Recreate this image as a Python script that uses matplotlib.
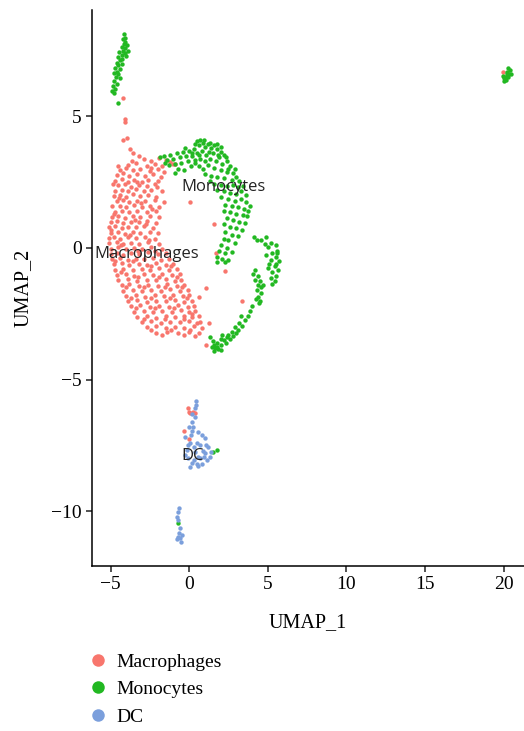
import numpy as np
import matplotlib.pyplot as plt
from matplotlib.lines import Line2D

# cell embeddings (UMAP_1, UMAP_2)
macrophages = [
    # trail below the top monocyte arm
    (-4.2, 5.7), (-4.1, 4.9), (-4.1, 4.8), (-3.95, 4.2), (-4.2, 4.1), (-3.75, 3.75), (-3.55, 3.6), (-3.2, 3.5),
    # main crescent
    (-2.9, 3.38), (-2.4, 3.3), (-1.9, 3.42), (-1.5, 3.35), (-1.2, 3.28),
    (-3.9, 3.15), (-3.4, 3.22), (-2.7, 3.12), (-2.2, 3.2), (-1.7, 3.1), (-1.0, 3.18),
    (-4.4, 2.98), (-4.0, 3.05), (-3.6, 2.95), (-3.1, 3.02), (-2.5, 2.92), (-2.0, 3.0), (-1.6, 2.9),
    (-4.6, 2.78), (-4.2, 2.85), (-3.8, 2.72), (-3.3, 2.8), (-2.8, 2.75), (-2.3, 2.82), (-1.8, 2.7),
    (-4.7, 2.55), (-4.3, 2.62), (-3.9, 2.5), (-3.5, 2.6), (-3.0, 2.52), (-2.6, 2.6), (-2.0, 2.55),
    (-4.5, 2.38), (-4.1, 2.42), (-3.7, 2.33), (-3.2, 2.4), (-2.7, 2.35), (-2.2, 2.42),
    (-4.7, 2.18), (-4.3, 2.22), (-3.9, 2.15), (-3.4, 2.25), (-2.9, 2.18), (-2.4, 2.2), (-1.7, 2.15),
    (-4.8, 1.98), (-4.4, 2.02), (-4.0, 1.95), (-3.6, 2.05), (-3.1, 1.97), (-2.6, 2.0), (-2.1, 1.95),
    (-4.6, 1.78), (-4.2, 1.82), (-3.8, 1.75), (-3.3, 1.8), (-2.8, 1.77), (-2.2, 1.84), (-1.6, 1.75),
    (-4.9, 1.58), (-4.4, 1.6), (-4.0, 1.55), (-3.5, 1.62), (-3.0, 1.55), (-2.5, 1.6), (-1.9, 1.57),
    (-4.7, 1.38), (-4.3, 1.42), (-3.8, 1.35), (-3.3, 1.4), (-2.7, 1.37), (-2.1, 1.42),
    (-4.9, 1.18), (-4.5, 1.22), (-4.1, 1.15), (-3.6, 1.2), (-3.1, 1.17), (-2.5, 1.22), (-1.9, 1.18),
    (-5.0, 0.98), (-4.6, 1.02), (-4.2, 0.95), (-3.7, 1.0), (-3.2, 0.97), (-2.7, 1.03), (-2.1, 0.96),
    (-5.1, 0.78), (-4.7, 0.82), (-4.3, 0.75), (-3.9, 0.8), (-3.4, 0.78), (-2.9, 0.83), (-2.3, 0.76),
    (-5.0, 0.58), (-4.5, 0.62), (-4.1, 0.55), (-3.6, 0.6), (-3.1, 0.57), (-2.5, 0.62), (-2.0, 0.56),
    (-5.1, 0.38), (-4.8, 0.42), (-4.4, 0.35), (-3.9, 0.4), (-3.4, 0.37), (-2.8, 0.42), (-2.2, 0.36),
    (-5.1, 0.18), (-4.6, 0.22), (-4.2, 0.15), (-3.7, 0.2), (-3.2, 0.17), (-2.6, 0.22), (-1.9, 0.16),
    (-5.0, -0.02), (-4.5, 0.02), (-4.0, -0.05), (-3.5, 0.0), (-3.0, -0.03), (-2.4, 0.03), (-1.7, -0.04),
    (-5.0, -0.22), (-4.6, -0.18), (-4.2, -0.25), (-3.7, -0.2), (-3.2, -0.23), (-2.6, -0.17), (-2.0, -0.24), (-1.5, -0.2),
    (-4.9, -0.42), (-4.4, -0.38), (-3.9, -0.45), (-3.4, -0.4), (-2.9, -0.43), (-2.3, -0.37), (-1.8, -0.44), (-1.3, -0.4),
    (-4.8, -0.62), (-4.3, -0.58), (-3.8, -0.65), (-3.2, -0.6), (-2.7, -0.63), (-2.1, -0.57), (-1.5, -0.64), (-1.0, -0.6),
    (-4.7, -0.82), (-4.2, -0.78), (-3.6, -0.85), (-3.0, -0.8), (-2.5, -0.83), (-1.9, -0.77), (-1.3, -0.84), (-0.8, -0.8),
    (-4.6, -1.02), (-4.0, -0.98), (-3.5, -1.05), (-2.9, -1.0), (-2.3, -1.03), (-1.7, -0.97), (-1.1, -1.04), (-0.6, -1.0),
    (-4.5, -1.22), (-3.9, -1.18), (-3.3, -1.25), (-2.7, -1.2), (-2.1, -1.23), (-1.5, -1.17), (-0.9, -1.24), (-0.5, -1.2),
    (-4.3, -1.42), (-3.8, -1.38), (-3.2, -1.45), (-2.6, -1.4), (-2.0, -1.43), (-1.4, -1.37), (-0.8, -1.44), (-0.3, -1.4),
    (-4.2, -1.62), (-3.6, -1.58), (-3.0, -1.65), (-2.4, -1.6), (-1.8, -1.63), (-1.2, -1.57), (-0.6, -1.64), (-0.1, -1.6),
    (-4.0, -1.82), (-3.4, -1.78), (-2.8, -1.85), (-2.2, -1.8), (-1.6, -1.83), (-1.0, -1.77), (-0.4, -1.84), (0.0, -1.8),
    (-3.9, -2.02), (-3.3, -1.98), (-2.7, -2.05), (-2.1, -2.0), (-1.5, -2.03), (-0.9, -1.97), (-0.3, -2.04), (0.2, -2.0),
    (-3.7, -2.22), (-3.1, -2.18), (-2.5, -2.25), (-1.9, -2.2), (-1.3, -2.23), (-0.7, -2.17), (-0.1, -2.24), (0.3, -2.2),
    (-3.5, -2.42), (-2.9, -2.38), (-2.3, -2.45), (-1.7, -2.4), (-1.1, -2.43), (-0.5, -2.37), (0.0, -2.44), (0.4, -2.4),
    (-3.3, -2.62), (-2.7, -2.58), (-2.1, -2.65), (-1.5, -2.6), (-0.9, -2.63), (-0.3, -2.57), (0.2, -2.64), (0.6, -2.6),
    (-3.0, -2.82), (-2.4, -2.78), (-1.8, -2.85), (-1.2, -2.8), (-0.6, -2.83), (0.0, -2.77), (0.5, -2.84),
    (-2.7, -3.02), (-2.1, -2.98), (-1.5, -3.05), (-0.9, -3.0), (-0.3, -3.03), (0.3, -2.97), (0.8, -3.04),
    (-2.1, -3.22), (-1.4, -3.18), (-0.7, -3.25), (0.0, -3.2), (0.6, -3.22),
    # in-between cells of the crescent
    (-4.55, 3.1), (-3.65, 3.3), (-2.45, 3.05), (-4.85, 2.45), (-3.35, 2.5), (-2.05, 2.3), (-4.45, 1.9),
    (-3.05, 1.7), (-2.35, 1.5), (-4.75, 1.3), (-3.45, 1.05), (-2.75, 0.9), (-4.95, 0.7), (-3.75, 0.5),
    (-2.55, 0.3), (-4.35, 0.1), (-3.25, -0.1), (-2.15, -0.1), (-4.7, -0.5), (-3.55, -0.5), (-2.45, -0.7),
    (-1.15, -0.7), (-4.35, -0.9), (-3.25, -1.1), (-1.95, -1.1), (-0.75, -1.1), (-4.0, -1.5), (-2.85, -1.5),
    (-1.55, -1.5), (-0.45, -1.5), (-3.7, -1.9), (-2.45, -1.9), (-1.25, -1.9), (-0.15, -1.9), (-3.4, -2.3),
    (-2.15, -2.3), (-0.95, -2.3), (0.15, -2.5), (-2.85, -2.7), (-1.55, -2.7), (-0.35, -2.7), (0.7, -2.8),
    (-2.4, -3.1), (-1.15, -3.1), (0.05, -3.1), (-1.75, -3.3), (-0.35, -3.3), (0.35, -3.35),
    # scattered ones inside the ring
    (-0.93, 3.18), (0.06, 1.76), (1.6, 0.9), (1.7, -0.18), (2.3, -0.87), (1.04, -1.53), (0.62, -1.87),
    (3.35, -2.0), (1.29, -2.84), (1.1, -3.69),
    # far right island
    (19.95, 6.7),
    # inside DC
    (-0.08, -6.1), (0.0, -6.22), (0.06, -6.29), (0.27, -6.22), (0.34, -6.26), (-0.36, -6.95), (-0.04, -7.27),
]

monocytes = [
    # top left arm
    (-4.15, 8.12), (-4.1, 8.0), (-4.2, 7.95), (-4.05, 7.85), (-4.15, 7.75), (-3.95, 7.7), (-4.3, 7.65),
    (-4.05, 7.6), (-4.2, 7.5), (-3.9, 7.5), (-4.45, 7.45), (-4.1, 7.4), (-4.3, 7.35), (-4.0, 7.3),
    (-4.55, 7.25), (-4.25, 7.2), (-4.4, 7.15), (-4.6, 7.05), (-4.3, 7.0), (-4.5, 6.95), (-4.7, 6.85),
    (-4.4, 6.8), (-4.6, 6.7), (-4.8, 6.65), (-4.5, 6.6), (-4.65, 6.5), (-4.4, 6.45), (-4.75, 6.35),
    (-4.6, 6.25), (-4.85, 6.15), (-4.7, 6.05), (-4.9, 5.98), (-4.8, 5.9), (-4.55, 5.5),
    # ring, upper left
    (-1.85, 3.45), (-1.6, 3.5), (-1.4, 3.35), (-1.2, 3.55), (-1.0, 3.4), (-0.8, 3.6), (-0.6, 3.45),
    (-0.4, 3.65), (-0.2, 3.5), (0.0, 3.7), (-1.3, 3.15), (-0.9, 3.2), (-0.5, 3.25), (-0.1, 3.3),
    (0.2, 3.5), (-0.7, 3.0), (-0.3, 2.95), (0.1, 3.1), (0.4, 3.25), (-0.9, 2.85), (-1.55, 3.25), (-0.25, 3.8),
    # ring, top
    (0.5, 4.05), (0.7, 4.1), (0.85, 4.0), (0.6, 3.9), (1.0, 3.85), (1.2, 3.95), (1.4, 3.8), (1.6, 3.9),
    (1.8, 3.75), (2.0, 3.65), (2.2, 3.55), (0.3, 3.75), (0.5, 3.6), (0.8, 3.7), (1.1, 3.55), (1.5, 3.6),
    (1.9, 3.45), (2.4, 3.3), (0.4, 3.35), (0.7, 3.4), (1.0, 3.3), (1.3, 3.4), (1.7, 3.3), (2.1, 3.2),
    (2.6, 3.1), (0.6, 3.1), (0.9, 3.0), (1.2, 3.15), (1.6, 3.05), (2.0, 2.95), (2.4, 2.9), (2.8, 2.85),
    (1.0, 2.8), (1.4, 2.75), (1.8, 2.7), (2.2, 2.65), (2.7, 2.6), (3.0, 2.7),
    (0.35, 3.95), (0.95, 4.1), (1.35, 4.0), (1.75, 3.95), (2.05, 3.85), (0.15, 3.6), (0.65, 3.55),
    (1.25, 3.65), (1.85, 3.55), (2.35, 3.45), (2.5, 3.0), (2.9, 3.0), (1.3, 2.55),
    # ring, right side
    (1.6, 2.45), (2.0, 2.4), (2.4, 2.35), (2.8, 2.4), (3.1, 2.3), (1.8, 2.2), (2.2, 2.15), (2.6, 2.1),
    (3.0, 2.05), (3.3, 2.15), (2.0, 1.95), (2.5, 1.85), (2.9, 1.8), (3.3, 1.85), (3.6, 1.75),
    (2.3, 1.65), (2.7, 1.6), (3.1, 1.55), (3.5, 1.5), (3.85, 1.6), (2.2, 1.4), (2.6, 1.35), (3.0, 1.3),
    (3.4, 1.25), (3.7, 1.2), (2.4, 1.15), (2.8, 1.05), (3.2, 1.0), (3.55, 0.95), (2.2, 0.9), (2.6, 0.8),
    (3.0, 0.75), (3.35, 0.7), (2.3, 0.6), (2.7, 0.5), (3.1, 0.45), (2.5, 0.3), (2.9, 0.2), (2.2, 0.35),
    (3.2, 2.55), (3.4, 2.35), (3.6, 2.0), (3.75, 1.4),
    (2.0, 0.1), (2.4, 0.0), (1.9, -0.1), (2.3, -0.2), (2.7, -0.15), (1.8, -0.35), (2.1, -0.4),
    (2.5, -0.45), (1.75, -0.55), (2.3, -0.55),
    # right lobe
    (4.1, 0.4), (4.6, 0.32), (4.9, 0.4), (5.2, 0.2), (5.5, 0.1), (5.0, 0.05), (5.6, -0.1), (5.3, -0.2),
    (4.9, -0.25), (5.55, -0.35), (5.2, -0.45), (5.7, -0.5), (5.1, -0.6), (5.45, -0.7), (5.65, -0.85),
    (5.3, -0.9), (5.5, -1.05), (5.2, -1.15), (5.45, -1.25), (5.3, -1.35), (5.6, -0.2), (4.8, 0.15),
    (5.0, -0.75), (5.55, -0.6), (4.3, 0.3),
    (4.2, -0.85), (4.05, -1.0), (4.4, -1.05), (4.2, -1.2), (4.5, -1.25), (4.35, -1.4), (4.6, -1.5),
    (4.3, -1.6), (4.55, -1.7), (4.4, -1.85), (4.25, -1.95), (4.5, -2.0), (4.7, -1.4), (4.45, -2.1),
    # bottom arc
    (4.0, -2.2), (3.85, -2.4), (3.75, -2.6), (3.55, -2.75), (3.35, -2.95), (3.1, -3.1), (3.0, -3.25),
    (2.8, -3.35), (2.6, -3.45), (2.4, -3.4), (2.2, -3.5), (2.0, -3.45), (1.8, -3.6), (1.6, -3.7),
    (1.45, -3.75), (1.65, -3.82), (1.85, -3.85), (2.05, -3.7), (2.35, -3.6), (2.7, -3.2), (2.1, -3.3),
    (1.35, -3.4), (1.5, -3.55), (3.3, -2.6), (2.9, -3.0), (1.55, -3.9), (1.75, -3.75), (2.0, -3.88),
    (3.2, -2.85), (2.5, -3.3),
    # far right island
    (20.3, 6.85), (20.4, 6.75), (20.25, 6.7), (20.45, 6.6), (20.2, 6.6), (20.1, 6.5), (20.3, 6.5),
    (20.0, 6.45), (20.15, 6.4), (20.05, 6.35), (19.95, 6.55), (20.35, 6.6),
    # inside DC
    (1.5, -7.74), (1.76, -7.68), (-0.72, -10.44),
]

dc = [
    (0.45, -5.82), (0.45, -5.97), (0.38, -6.41), (0.17, -6.6), (-0.04, -6.79), (0.27, -6.79), (0.59, -6.98),
    (0.81, -7.11), (1.02, -7.24), (-0.25, -7.17), (0.06, -7.43), (0.49, -7.43), (0.7, -7.49), (1.23, -7.56),
    (1.02, -7.81), (1.34, -7.94), (1.13, -8.06), (0.17, -8.19), (0.49, -8.21), (0.81, -8.21), (0.06, -8.31),
    (-0.25, -7.87), (-0.15, -7.68), (0.59, -7.94), (0.38, -7.74), (0.2, -6.95), (0.1, -7.1), (-0.1, -7.5),
    (0.3, -7.55), (0.85, -7.7), (1.1, -7.5), (0.7, -8.0), (0.95, -7.95), (1.4, -7.75), (0.3, -8.05),
    (-0.05, -8.0), (0.55, -8.3), (0.2, -6.3), (0.4, -6.1),
    # lower group
    (-0.62, -9.9), (-0.68, -10.02), (-0.78, -10.22), (-0.68, -10.34), (-0.57, -10.66), (-0.62, -10.85),
    (-0.72, -10.98), (-0.57, -11.04), (-0.51, -11.17), (-0.78, -11.07), (-0.46, -10.91),
]

cell_types = ['Macrophages', 'Monocytes', 'DC']
colors = ['#F8766D', '#22B822', '#7B9FDC']
label_pos = {'Macrophages': (-2.7, -0.23), 'Monocytes': (2.16, 2.32), 'DC': (0.25, -7.9)}

serif = ['Liberation Serif', 'DejaVu Serif']

fig = plt.figure(figsize=(5.24, 7.31), dpi=100)
ax = fig.add_axes([0.1756, 0.2257, 0.8244, 0.7607])

for pts, col in zip([macrophages, monocytes, dc], colors):
    arr = np.array(pts)
    ax.scatter(arr[:, 0], arr[:, 1], s=10, c=col, linewidths=0)

for name in cell_types:
    x, y = label_pos[name]
    ax.text(x, y, name, ha='center', va='center', fontsize=12, family='Open Sans', color='#222222')

ax.set_xlim(-6.18, 21.3)
ax.set_ylim(-12.09, 9.05)
ax.set_xticks([-5, 0, 5, 10, 15, 20])
ax.set_yticks([-10, -5, 0, 5])
ax.spines['top'].set_visible(False)
ax.spines['right'].set_visible(False)
ax.spines['left'].set_linewidth(1.1)
ax.spines['bottom'].set_linewidth(1.1)
ax.tick_params(length=4, width=1.1, labelsize=14, color='#222222')
for lab in ax.get_xticklabels() + ax.get_yticklabels():
    lab.set_family(serif)
ax.set_xlabel('UMAP_1', fontsize=14.5, family=serif, labelpad=14)
ax.set_ylabel('UMAP_2', fontsize=14.5, family=serif, labelpad=13)

handles = [Line2D([], [], marker='o', ls='', color=c, markersize=9, markeredgewidth=0) for c in colors]
fig.legend(handles, cell_types, loc='upper left', bbox_to_anchor=(0.153, 0.117), frameon=False,
           prop={'family': serif, 'size': 14}, handlelength=1.0, handletextpad=0.45, labelspacing=0.5,
           borderaxespad=0)

fig.savefig('out.png', dpi=100)
